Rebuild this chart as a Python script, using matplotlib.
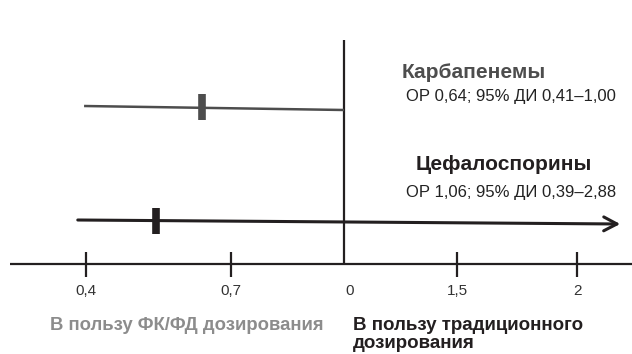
import numpy as np
import matplotlib
matplotlib.use("Agg")
import matplotlib.pyplot as plt
from matplotlib import transforms

plt.rcParams["font.family"] = ["Liberation Sans", "DejaVu Sans"]

# Data
drugs = ["Карбапенемы", "Цефалоспорины"]
or_vals = [0.64, 1.06]
ci_low = [0.41, 0.39]
ci_high = [1.00, 2.88]
# where the marks sit in the picture (the cephalosporin mark is drawn off its stated OR)
drawn_lo = [0.396, 0.383]
drawn_or = [0.64, 0.545]
drawn_hi = [1.00, 2.18]
tick_vals = [0.4, 0.7, 1.0, 1.5, 2.0]
tick_labels = ["0,4", "0,7", "0", "1,5", "2"]
# uneven tick spacing of the original drawing
tick_pos = np.array([86, 231, 344, 457, 577], dtype=float)
tv = np.array(tick_vals)

lo_slope = (tick_pos[1] - tick_pos[0]) / (tv[1] - tv[0])
hi_slope = (tick_pos[-1] - tick_pos[-2]) / (tv[-1] - tv[-2])


def fwd(v):
    v = np.asarray(v, dtype=float)
    out = np.interp(v, tv, tick_pos)
    out = np.where(v < tv[0], tick_pos[0] + (v - tv[0]) * lo_slope, out)
    out = np.where(v > tv[-1], tick_pos[-1] + (v - tv[-1]) * hi_slope, out)
    return out


def inv(p):
    p = np.asarray(p, dtype=float)
    out = np.interp(p, tick_pos, tv)
    out = np.where(p < tick_pos[0], tv[0] + (p - tick_pos[0]) / lo_slope, out)
    out = np.where(p > tick_pos[-1], tv[-1] + (p - tick_pos[-1]) / hi_slope, out)
    return out


fig = plt.figure(figsize=(6.32, 3.54), dpi=100)
ax = fig.add_axes([0, 0, 1, 1])
ax.set_xscale("function", functions=(fwd, inv))
ax.set_xlim(float(inv(0)), float(inv(632)))
ax.set_ylim(354, 0)
ax.axis("off")

dark = "#231f20"
grey = "#4d4d4d"
axis_y = 264

# base axis with ticks
ax.plot([float(inv(10)), float(inv(632))], [axis_y, axis_y], color=dark, lw=1.6,
        solid_capstyle="butt")
for v in tick_vals:
    if v == 1.0:
        continue
    ax.plot([v, v], [252, 277], color=dark, lw=1.6, solid_capstyle="butt")
for v, lab in zip(tick_vals, tick_labels):
    dx = 6 if v == 1.0 else 0
    tr = ax.transData + transforms.ScaledTranslation(dx / 100, 0, fig.dpi_scale_trans)
    ax.text(v, 291, lab, ha="center", va="center", fontsize=11, color="#333333",
            transform=tr)

# line of no effect
ax.plot([1.0, 1.0], [40, axis_y], color=dark, lw=1.6, solid_capstyle="butt")

# carbapenems
ax.plot([drawn_lo[0], drawn_hi[0]], [106, 110], color=grey, lw=1.8,
        solid_capstyle="butt")
ax.plot([drawn_or[0]], [107], marker="|", ms=19, mew=5.5, color=grey)

# cephalosporins (arrow: CI runs past the axis)
ax.annotate("", xy=(drawn_hi[1], 224), xytext=(drawn_lo[1], 220),
            arrowprops=dict(arrowstyle="->,head_length=0.95,head_width=0.5",
                            color=dark, lw=2.2, mutation_scale=10,
                            shrinkA=0, shrinkB=0))
ax.plot([drawn_or[1]], [221], marker="|", ms=19, mew=5.5, color=dark)

# labels
fig_tr = transforms.blended_transform_factory(fig.transFigure, ax.transData)
title_y = [72, 165]
title_col = [grey, dark]
title_x = [474, 504]
stat_y = [97, 192]
for i in range(2):
    ax.text(title_x[i] / 632, title_y[i], drugs[i], transform=fig_tr, ha="center",
            va="center", fontsize=15, fontweight="bold", color=title_col[i])
    s = "ОР {:.2f}; 95% ДИ {:.2f}–{:.2f}".format(or_vals[i], ci_low[i], ci_high[i])
    ax.text(616 / 632, stat_y[i], s.replace(".", ","), transform=fig_tr, ha="right",
            va="center", fontsize=12, color="#222222")

ax.text(50 / 632, 325, "В пользу ФК/ФД дозирования", transform=fig_tr, ha="left",
        va="center", fontsize=13.3, fontweight="bold", color="#8c8c8c")
ax.text(353 / 632, 334.5, "В пользу традиционного\nдозирования", transform=fig_tr,
        ha="left", va="center", fontsize=13.5, fontweight="bold", color=dark,
        linespacing=1.15)

fig.savefig("out.png", dpi=100)
